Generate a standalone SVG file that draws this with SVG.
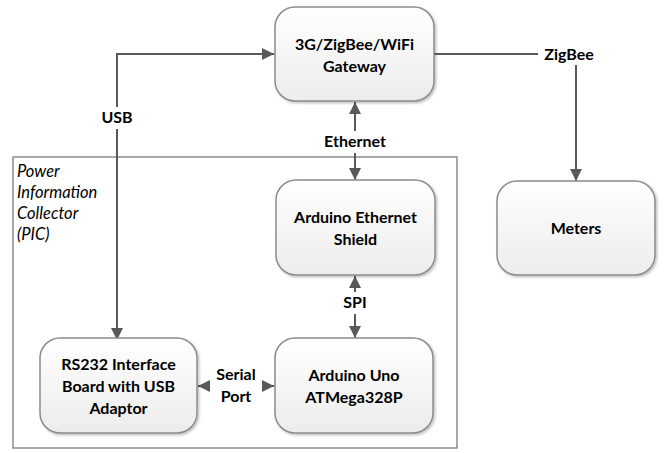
<svg xmlns="http://www.w3.org/2000/svg" width="665" height="453" viewBox="0 0 665 453">
<style>
.box{fill:url(#g);stroke:#8c8c8c;stroke-width:1.5;filter:url(#sh)}
.t{font-family:Lato,"Open Sans",sans-serif;font-weight:bold;font-size:16px;fill:#000;text-anchor:middle}
.lbl{font-family:Lato,"Open Sans",sans-serif;font-weight:bold;font-size:16px;fill:#000;text-anchor:middle}
.it{font-family:Lato,"Open Sans",sans-serif;font-style:italic;font-size:16.5px;fill:#000}
.c{fill:none;stroke:#595959;stroke-width:2}
</style>
<defs>
<linearGradient id="g" x1="0" y1="0" x2="0" y2="1"><stop offset="0" stop-color="#ffffff"/><stop offset="1" stop-color="#ececec"/></linearGradient>
<filter id="sh" x="-10%" y="-10%" width="130%" height="130%"><feDropShadow dx="1.5" dy="1.5" stdDeviation="1.2" flood-color="#000" flood-opacity="0.25"/></filter>
<marker id="a" viewBox="0 0 10 10" refX="10" refY="5" markerWidth="6" markerHeight="6" orient="auto-start-reverse" markerUnits="strokeWidth"><path d="M0,0 L10,5 L0,10 z" fill="#595959"/></marker>
</defs>
<rect width="665" height="453" fill="#fff"/>
<g id="pic">
<rect x="13" y="157" width="444" height="291" fill="none" stroke="#6e6e6e" stroke-width="1.2"/>
<text class="it" x="17" y="177">Power</text>
<text class="it" x="17" y="198">Information</text>
<text class="it" x="17" y="219">Collector</text>
<text class="it" x="17" y="240">(PIC)</text>
</g>
<g id="connectors">
<path class="c" d="M117,340 V54 H274" marker-start="url(#a)" marker-end="url(#a)"/>
<path class="c" d="M355,180 V102" marker-start="url(#a)" marker-end="url(#a)"/>
<path class="c" d="M355,276 V338" marker-start="url(#a)" marker-end="url(#a)"/>
<path class="c" d="M198,386 H274" marker-start="url(#a)" marker-end="url(#a)"/>
<path class="c" d="M434,54 H538"/>
<path class="c" d="M576,65 V181" marker-end="url(#a)"/>
<rect x="94" y="107" width="46" height="22" fill="#fff"/>
<text class="lbl" x="117" y="123">USB</text>
<rect x="316" y="131" width="78" height="22" fill="#fff"/>
<text class="lbl" x="355" y="147">Ethernet</text>
<rect x="336" y="292" width="38" height="22" fill="#fff"/>
<text class="lbl" x="355" y="308">SPI</text>
<rect x="210" y="364" width="52" height="44" fill="#fff"/>
<text class="lbl" x="236" y="380">Serial</text>
<text class="lbl" x="236" y="402">Port</text>
<text class="lbl" x="569" y="60">ZigBee</text>
</g>
<g id="gateway">
<rect class="box" x="275" y="7" width="159" height="94" rx="20"/>
<text class="t" x="354.5" y="50">3G/ZigBee/WiFi</text>
<text class="t" x="354.5" y="72">Gateway</text>
</g>
<g id="shield">
<rect class="box" x="276" y="180" width="159" height="95" rx="20"/>
<text class="t" x="355.5" y="223">Arduino Ethernet</text>
<text class="t" x="355.5" y="245">Shield</text>
</g>
<g id="uno">
<rect class="box" x="275" y="338" width="158" height="95" rx="20"/>
<text class="t" x="354" y="381">Arduino Uno</text>
<text class="t" x="354" y="403">ATMega328P</text>
</g>
<g id="rs232">
<rect class="box" x="40" y="338" width="157" height="95" rx="20"/>
<text class="t" x="118.5" y="370">RS232 Interface</text>
<text class="t" x="118.5" y="392">Board with USB</text>
<text class="t" x="118.5" y="414">Adaptor</text>
</g>
<g id="meters">
<rect class="box" x="497" y="181" width="158" height="94" rx="20"/>
<text class="t" x="576" y="234">Meters</text>
</g>
</svg>
